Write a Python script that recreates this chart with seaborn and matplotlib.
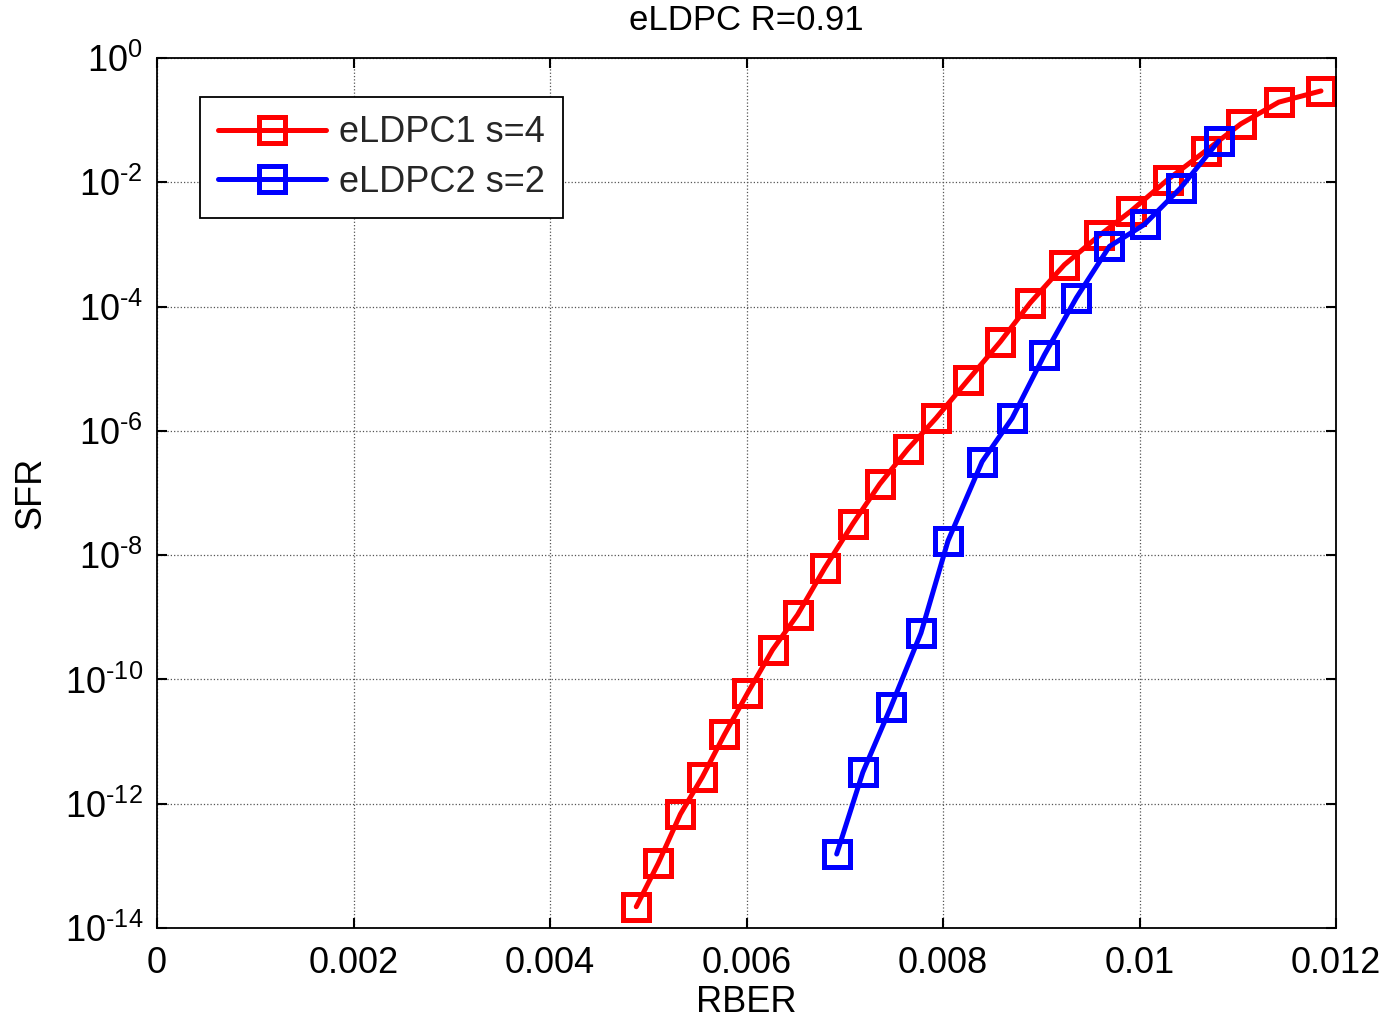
import numpy as np
import pandas as pd
import matplotlib
matplotlib.use("Agg")
import matplotlib.pyplot as plt
import seaborn as sns

# ---- data ----
rber_1 = [0.004878, 0.005102, 0.005327, 0.005551, 0.005776, 0.006010, 0.006265,
          0.006520, 0.006796, 0.007082, 0.007357, 0.007643, 0.007929, 0.008255,
          0.008582, 0.008888, 0.009235, 0.009592, 0.009918, 0.010286, 0.010673,
          0.011031, 0.011418, 0.011847]
sfr_1 = [2.2e-14, 1.1e-13, 6.8e-13, 2.7e-12, 1.3e-11, 6.0e-11, 3.0e-10,
         1.1e-9, 6.2e-9, 3.2e-8, 1.4e-7, 5.1e-7, 1.6e-6, 6.6e-6,
         2.7e-5, 1.15e-4, 4.7e-4, 1.4e-3, 3.5e-3, 1.1e-2, 3.2e-2,
         8.7e-2, 0.195, 0.295]
rber_2 = [0.006918, 0.007184, 0.007469, 0.007776, 0.008051, 0.008398, 0.008704,
          0.009031, 0.009357, 0.009694, 0.010051, 0.010418, 0.010806]
sfr_2 = [1.55e-13, 3.2e-12, 3.6e-11, 5.6e-10, 1.7e-8, 3.2e-7, 1.6e-6,
         1.66e-5, 1.38e-4, 9.3e-4, 2.1e-3, 8.1e-3, 4.6e-2]
series_labels = ["eLDPC1 s=4", "eLDPC2 s=2"]
x_ticks = [0, 0.002, 0.004, 0.006, 0.008, 0.01, 0.012]
x_tick_labels = ["0", "0.002", "0.004", "0.006", "0.008", "0.01", "0.012"]
y_exponents = [0, -2, -4, -6, -8, -10, -12, -14]

sns.set_theme(style="white")
plt.rcParams["font.family"] = ["Liberation Sans", "DejaVu Sans"]
plt.rcParams["mathtext.fontset"] = "custom"
plt.rcParams["mathtext.rm"] = "Liberation Sans"
plt.rcParams["mathtext.it"] = "Liberation Sans:italic"
plt.rcParams["mathtext.default"] = "regular"

fig = plt.figure(figsize=(13.87, 10.23), dpi=100)
ax = fig.add_axes([157 / 1387, 1 - 928 / 1023, (1336 - 157) / 1387, (928 - 58) / 1023])

colors = ["#ff0000", "#0000ff"]
for xs, ys, lab, c in zip([rber_1, rber_2], [sfr_1, sfr_2], series_labels, colors):
    df = pd.DataFrame({"RBER": xs, "SFR": ys})
    sns.lineplot(data=df, x="RBER", y="SFR", ax=ax, sort=False, color=c,
                 linewidth=3.6, marker="s", markersize=18.5, mfc="none",
                 mec=c, mew=3.6, label=lab, legend=False)

ax.set_yscale("log")
ax.set_xlim(0, 0.012)
ax.set_ylim(1e-14, 1e0)
ax.set_xticks(x_ticks)
ax.set_xticklabels(x_tick_labels)
ax.set_yticks([10.0 ** e for e in y_exponents])
ax.set_yticklabels([r"$\mathregular{10^{\text{%d}}}$" % e for e in y_exponents])
ax.minorticks_off()
ax.tick_params(axis="both", which="major", direction="in", length=7, width=1.5,
               labelsize=26, top=True, right=True, bottom=True, left=True,
               colors="black")
ax.tick_params(axis="x", pad=13)
ax.tick_params(axis="y", pad=10)
ax.grid(True, which="major", linestyle=":", color="#555555", linewidth=0.9)
for s in ax.spines.values():
    s.set_visible(True)
    s.set_color("black")
    s.set_linewidth(1.3)

ax.set_xlabel("RBER", fontsize=26, color="black", labelpad=3)
ax.set_ylabel("SFR", fontsize=26, color="black", labelpad=12)
ax.set_title("eLDPC R=0.91", fontsize=25, color="black", pad=20)

leg = ax.legend(loc="upper left", bbox_to_anchor=(0.0365, 0.955), fontsize=26,
                frameon=True, fancybox=False, framealpha=1, edgecolor="black",
                handlelength=3.0, handletextpad=0.35, borderpad=0.5,
                labelspacing=0.4, borderaxespad=0)
leg.get_frame().set_linewidth(1.3)

fig.savefig("out.png", dpi=100)
